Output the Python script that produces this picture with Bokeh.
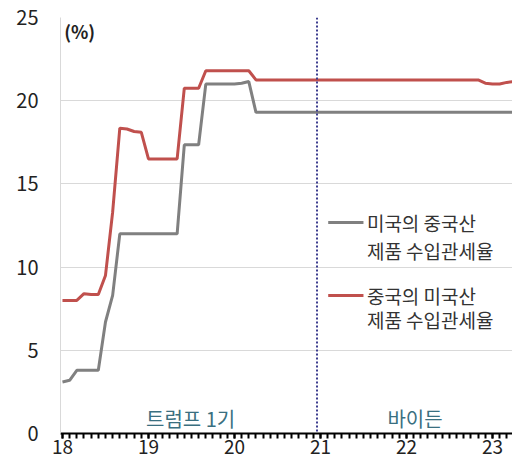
from bokeh.plotting import figure
from bokeh.models import Span, Label, FixedTicker, Range1d
from bokeh.embed import file_html
from bokeh.resources import INLINE

# Monthly tariff rates (%), Jan 2018 onward
months = [f"20{18 + i // 12}-{i % 12 + 1:02d}" for i in range(64)]

us_tariff_on_china = [
    3.1, 3.2, 3.8, 3.8, 3.8, 3.8, 6.7, 8.3, 12.0, 12.0, 12.0, 12.0,      # 2018
    12.0, 12.0, 12.0, 12.0, 12.0, 17.35, 17.35, 17.35, 21.0, 21.0, 21.0, 21.0,  # 2019
    21.0, 21.05, 21.15, 19.3, 19.3, 19.3, 19.3, 19.3, 19.3, 19.3, 19.3, 19.3,  # 2020
    19.3, 19.3, 19.3, 19.3, 19.3, 19.3, 19.3, 19.3, 19.3, 19.3, 19.3, 19.3,  # 2021
    19.3, 19.3, 19.3, 19.3, 19.3, 19.3, 19.3, 19.3, 19.3, 19.3, 19.3, 19.3,  # 2022
    19.3, 19.3, 19.3, 19.3,                                                  # 2023
]

china_tariff_on_us = [
    8.0, 8.0, 8.0, 8.4, 8.35, 8.35, 9.5, 13.3, 18.35, 18.3, 18.15, 18.1,    # 2018
    16.5, 16.5, 16.5, 16.5, 16.5, 20.75, 20.75, 20.75, 21.8, 21.8, 21.8, 21.8,  # 2019
    21.8, 21.8, 21.8, 21.25, 21.25, 21.25, 21.25, 21.25, 21.25, 21.25, 21.25, 21.25,  # 2020
    21.25, 21.25, 21.25, 21.25, 21.25, 21.25, 21.25, 21.25, 21.25, 21.25, 21.25, 21.25,  # 2021
    21.25, 21.25, 21.25, 21.25, 21.25, 21.25, 21.25, 21.25, 21.25, 21.25, 21.25, 21.05,  # 2022
    21.0, 21.0, 21.1, 21.15,                                                 # 2023
]

year_ticks = [18, 19, 20, 21, 22, 23]
y_ticks = [0, 5, 10, 15, 20, 25]
biden_start = 20.96

x = [int(mo[2:4]) + (int(mo[5:7]) - 1) / 12 for mo in months]

FONT = "Noto Sans CJK KR"
GRAY = "#808080"
RED = "#c0504d"

p = figure(width=512, height=461, output_backend="svg", toolbar_location=None,
           x_range=Range1d(17.977, 23.233), y_range=Range1d(0, 25),
           min_border_left=60, min_border_right=0, min_border_top=17,
           min_border_bottom=28)
p.outline_line_color = None
p.background_fill_color = "white"
p.border_fill_color = "white"

# y axis: light axis line, no ticks, horizontal grid
p.yaxis.ticker = FixedTicker(ticks=y_ticks)
p.yaxis.axis_line_color = "#d9d9d9"
p.yaxis.major_tick_line_color = None
p.yaxis.minor_tick_line_color = None
p.yaxis.major_tick_out = 0
p.yaxis.major_label_standoff = 22
p.yaxis.major_label_text_font = FONT
p.yaxis.major_label_text_font_size = "20px"
p.yaxis.major_label_text_color = "#222222"
p.ygrid.ticker = FixedTicker(ticks=y_ticks)
p.ygrid.grid_line_color = "#d9d9d9"
p.xgrid.visible = False

# x axis: yearly labels, monthly tick comb
p.xaxis.ticker = FixedTicker(ticks=year_ticks, minor_ticks=x)
p.xaxis.axis_line_color = "black"
p.xaxis.axis_line_width = 2
p.xaxis.major_tick_line_color = "black"
p.xaxis.minor_tick_line_color = "black"
p.xaxis.major_tick_line_width = 2
p.xaxis.minor_tick_line_width = 2
p.xaxis.major_tick_in = 0
p.xaxis.major_tick_out = 5
p.xaxis.minor_tick_in = 0
p.xaxis.minor_tick_out = 5
p.xaxis.major_label_standoff = 1
p.xaxis.major_label_text_font = FONT
p.xaxis.major_label_text_font_size = "19px"
p.xaxis.major_label_text_color = "#222222"

# administration divider
p.add_layout(Span(location=biden_start, dimension="height", line_color="#3d3d8f",
                  line_width=2, line_dash="2 2"))

p.line(x, us_tariff_on_china, line_color=GRAY, line_width=3)
p.line(x, china_tariff_on_us, line_color=RED, line_width=3)

def add_text(tx, ty, text, color="#333333", size="19px", align="left", style="normal"):
    p.add_layout(Label(x=tx, y=ty, text=text, text_font=FONT, text_font_size=size,
                       text_color=color, text_align=align, text_baseline="middle",
                       text_font_style=style))

add_text(18.02, 24.2, "(%)", color="#222222", size="18px", style="bold")
add_text(19.49, 0.9, "트럼프 1기", color="#3a6f80", size="20px", align="center")
add_text(22.1, 0.9, "바이든", color="#3a6f80", size="20px", align="center")

# legend
p.segment(x0=[21.09, 21.09], y0=[12.68, 8.29], x1=[21.5, 21.5], y1=[12.68, 8.29],
          line_color=[GRAY, RED], line_width=3)
add_text(21.54, 12.68, "미국의 중국산")
add_text(21.54, 11.0, "제품 수입관세율")
add_text(21.54, 8.29, "중국의 미국산")
add_text(21.54, 6.85, "제품 수입관세율")

open("out.html", "w").write(file_html(p, INLINE))
